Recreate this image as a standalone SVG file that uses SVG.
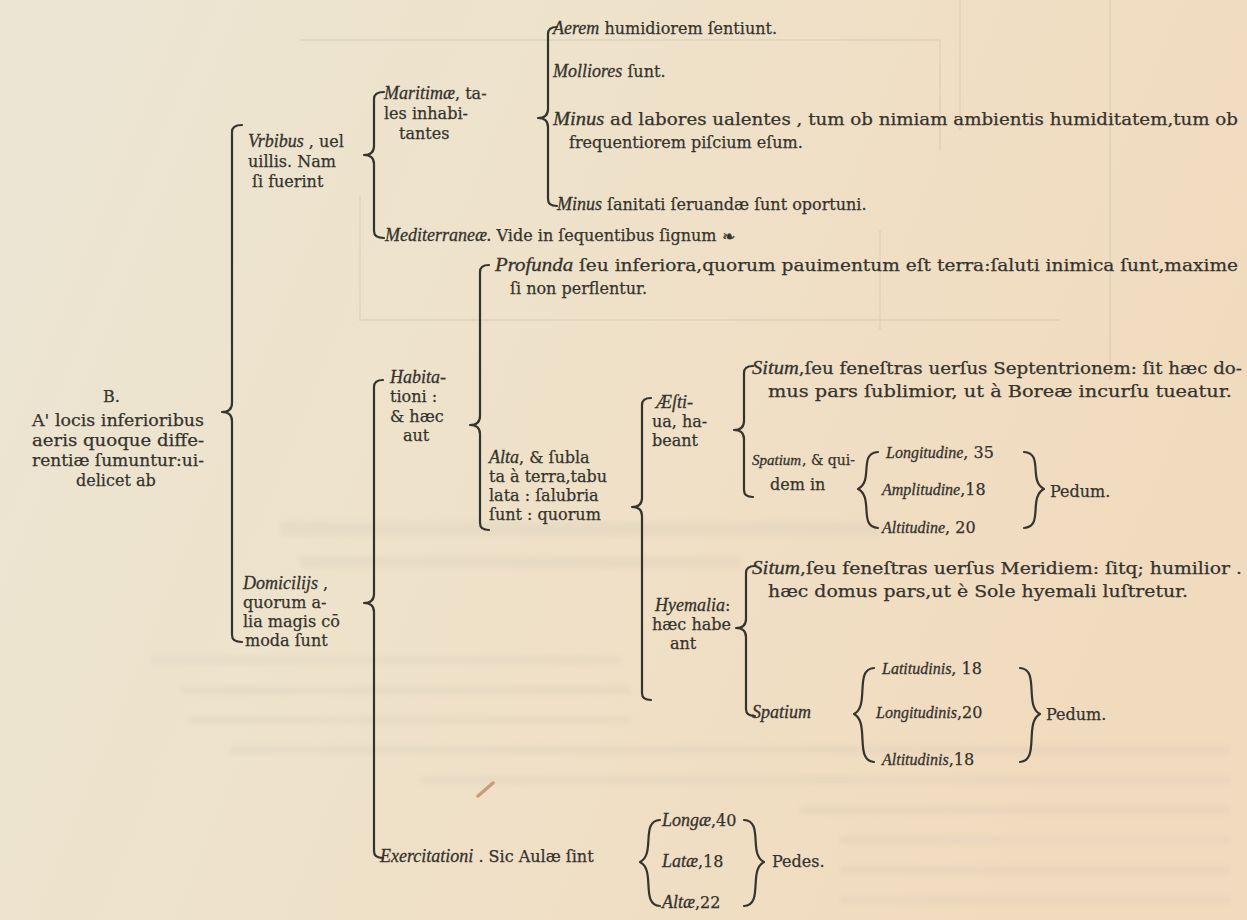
<svg xmlns="http://www.w3.org/2000/svg" width="1247" height="920" viewBox="0 0 1247 920">
<defs>
<linearGradient id="bg" x1="0" y1="0" x2="1" y2="0.3">
<stop offset="0" stop-color="#ebe5d4"/>
<stop offset="0.45" stop-color="#eee2ca"/>
<stop offset="1" stop-color="#f1dbbf"/>
</linearGradient>
<filter id="blur" x="-10%" y="-50%" width="120%" height="200%"><feGaussianBlur stdDeviation="2"/></filter>
<style>
text { font-family: "DejaVu Serif", "Liberation Serif", serif; font-size: 16px; fill: #35332d; stroke: #35332d; stroke-width: 0.25; }
.i { font-family: "Liberation Serif", serif; font-style: italic; font-size: 18px; stroke-width: 0.3; }
.s { font-size: 16px; }
.sym { font-family: "DejaVu Sans", sans-serif; }
.b { fill: none; stroke: #35332d; stroke-width: 2.2; stroke-linecap: round; stroke-linejoin: round; }
.ghost { fill: #9a9a94; opacity: 0.08; filter: url(#blur); }
.gline { fill: none; stroke: #8f948c; stroke-width: 2; opacity: 0.12; }
</style>
</defs>
<rect width="1247" height="920" fill="url(#bg)"/>
<g id="bleed">
<rect class="ghost" x="280" y="522" width="600" height="14"/>
<rect class="ghost" x="300" y="556" width="440" height="12"/>
<rect class="ghost" x="150" y="656" width="470" height="8"/>
<rect class="ghost" x="180" y="686" width="450" height="8"/>
<rect class="ghost" x="190" y="716" width="440" height="8"/>
<rect class="ghost" x="230" y="746" width="1000" height="8"/>
<rect class="ghost" x="420" y="776" width="810" height="8"/>
<rect class="ghost" x="800" y="806" width="430" height="8"/>
<rect class="ghost" x="840" y="836" width="390" height="8"/>
<rect class="ghost" x="840" y="866" width="390" height="8"/>
<rect class="ghost" x="840" y="896" width="390" height="8"/>
<path class="gline" d="M960 0 V130 M1110 0 V380 M300 40 H940 V150 M360 195 V320 H1060 M880 230 V330"/>
</g>
<g id="connectors">
<path class="b" d="M242 125 Q232 125 232 132 L232 403 Q232 412 222 412 Q232 412 232 421 L232 635 Q232 642 242 642"/>
<path class="b" d="M384 92 Q374 92 374 99 L374 146 Q374 155 364 155 Q374 155 374 164 L374 231 Q374 238 384 238"/>
<path class="b" d="M557 27 Q548 27 548 34 L548 109 Q548 118 538 118 Q548 118 548 127 L548 199 Q548 206 557 206"/>
<path class="b" d="M489 265 Q480 265 480 272 L480 416 Q480 425 470 425 Q480 425 480 434 L480 523 Q480 530 489 530"/>
<path class="b" d="M383 380 Q374 380 374 387 L374 594 Q374 603 364 603 Q374 603 374 612 L374 851 Q374 858 383 858"/>
<path class="b" d="M651 398 Q642 398 642 405 L642 498 Q642 507 632 507 Q642 507 642 516 L642 693 Q642 700 651 700"/>
<path class="b" d="M753 366 Q744 366 744 373 L744 421 Q744 430 734 430 Q744 430 744 439 L744 490 Q744 497 753 497"/>
<path class="b" d="M755 566 Q746 566 746 573 L746 619 Q746 628 736 628 Q746 628 746 637 L746 709 Q746 716 755 716"/>
<path class="b" d="M878 452 C858 453 874 481 858 489 C874 497 858 527 878 528"/>
<path class="b" d="M1024 452 C1044 453 1028 481 1044 489 C1028 497 1044 527 1024 528"/>
<path class="b" d="M874 668 C854 669 870 706 854 714 C870 722 854 761 874 762"/>
<path class="b" d="M1020 668 C1040 669 1024 706 1040 714 C1024 722 1040 761 1020 762"/>
<path class="b" d="M660 820 C640 821 656 854 640 862 C656 870 640 905 660 906"/>
<path class="b" d="M744 820 C764 821 748 854 764 862 C748 870 764 905 744 906"/>
<path d="M478 796 L493 783" stroke="#c08d66" stroke-width="3.5" stroke-linecap="round" opacity="0.8"/>
</g>
<g id="root">
<text x="103" y="402">B.</text>
<text x="32" y="426" textLength="172" lengthAdjust="spacingAndGlyphs">A' locis inferioribus</text>
<text x="32" y="446" textLength="172" lengthAdjust="spacingAndGlyphs">aeris quoque diffe-</text>
<text x="32" y="466" textLength="172" lengthAdjust="spacingAndGlyphs">rentiæ ſumuntur:ui-</text>
<text x="76" y="486">delicet ab</text>
</g>
<g id="vrbibus">
<text x="248" y="147"><tspan class="i">Vrbibus</tspan> , uel</text>
<text x="248" y="167">uillis. Nam</text>
<text x="252" y="187">ſi fuerint</text>
</g>
<g id="maritimae">
<text x="384" y="99"><tspan class="i">Maritimæ</tspan>, ta-</text>
<text x="384" y="119">les inhabi-</text>
<text x="399" y="139">tantes</text>
</g>
<g id="mediterraneae">
<text x="385" y="241"><tspan class="i">Mediterraneæ.</tspan>  Vide in ſequentibus ſignum</text>
<text class="sym" x="722" y="242" font-size="17">❧</text>
</g>
<g id="maritimae-items">
<text x="553" y="34"><tspan class="i">Aerem</tspan> humidiorem ſentiunt.</text>
<text x="553" y="77"><tspan class="i">Molliores</tspan> ſunt.</text>
<text x="553" y="125" textLength="685" lengthAdjust="spacingAndGlyphs"><tspan class="i">Minus</tspan> ad labores ualentes , tum ob nimiam ambientis humiditatem,tum ob</text>
<text x="569" y="148">frequentiorem piſcium eſum.</text>
<text x="557" y="210"><tspan class="i">Minus</tspan> ſanitati ſeruandæ ſunt oportuni.</text>
</g>
<g id="domicilijs">
<text x="243" y="589"><tspan class="i">Domicilijs</tspan> ,</text>
<text x="243" y="608">quorum a-</text>
<text x="243" y="627">lia magis cō</text>
<text x="245" y="646">moda ſunt</text>
</g>
<g id="habitationi">
<text x="390" y="383"><tspan class="i">Habita-</tspan></text>
<text x="390" y="402">tioni :</text>
<text x="390" y="422">&amp; hæc</text>
<text x="403" y="441">aut</text>
</g>
<g id="profunda">
<text x="495" y="271" textLength="743" lengthAdjust="spacingAndGlyphs"><tspan class="i">Profunda</tspan> ſeu inferiora,quorum pauimentum eſt terra:ſaluti inimica ſunt,maxime</text>
<text x="510" y="294">ſi non perflentur.</text>
</g>
<g id="alta">
<text x="489" y="463"><tspan class="i">Alta</tspan>, &amp; ſubla</text>
<text x="489" y="482">ta à terra,tabu</text>
<text x="489" y="501">lata : ſalubria</text>
<text x="489" y="520">ſunt : quorum</text>
</g>
<g id="aestiua">
<text x="656" y="408"><tspan class="i">Æſti-</tspan></text>
<text x="652" y="427">ua, ha-</text>
<text x="652" y="446">beant</text>
</g>
<g id="situm-septentrionem">
<text x="752" y="374" textLength="490" lengthAdjust="spacingAndGlyphs"><tspan class="i">Situm</tspan>,ſeu feneſtras uerſus Septentrionem: ſit hæc do-</text>
<text x="768" y="397" textLength="464" lengthAdjust="spacingAndGlyphs">mus pars ſublimior, ut à Boreæ incurſu tueatur.</text>
</g>
<g id="spatium-aestiua">
<text class="i" x="752" y="465" font-size="15" style="font-size:15px">Spatium</text>
<text x="802" y="465" font-size="14" style="font-size:14px">, &amp; qui-</text>
<text x="770" y="490">dem in</text>
<text x="886" y="458"><tspan class="i s">Longitudine</tspan>, 35</text>
<text x="882" y="495"><tspan class="i s">Amplitudine</tspan>,18</text>
<text x="882" y="533"><tspan class="i s">Altitudine</tspan>, 20</text>
<text x="1050" y="497">Pedum.</text>
</g>
<g id="hyemalia">
<text x="655" y="611"><tspan class="i">Hyemalia</tspan>:</text>
<text x="652" y="630">hæc habe</text>
<text x="670" y="649">ant</text>
</g>
<g id="situm-meridiem">
<text x="752" y="574" textLength="490" lengthAdjust="spacingAndGlyphs"><tspan class="i">Situm</tspan>,ſeu feneſtras uerſus Meridiem: ſitq; humilior .</text>
<text x="768" y="597" textLength="420" lengthAdjust="spacingAndGlyphs">hæc domus pars,ut è Sole hyemali luſtretur.</text>
</g>
<g id="spatium-hyemalia">
<text x="752" y="718"><tspan class="i">Spatium</tspan></text>
<text x="882" y="674"><tspan class="i s">Latitudinis</tspan>, 18</text>
<text x="876" y="718"><tspan class="i s">Longitudinis</tspan>,20</text>
<text x="882" y="765"><tspan class="i s">Altitudinis</tspan>,18</text>
<text x="1046" y="720">Pedum.</text>
</g>
<g id="exercitationi">
<text x="380" y="862"><tspan class="i">Exercitationi</tspan> .  Sic Aulæ ſint</text>
<text x="662" y="826"><tspan class="i">Longæ</tspan>,40</text>
<text x="662" y="867"><tspan class="i">Latæ</tspan>,18</text>
<text x="662" y="908"><tspan class="i">Altæ</tspan>,22</text>
<text x="772" y="867">Pedes.</text>
</g>
</svg>
